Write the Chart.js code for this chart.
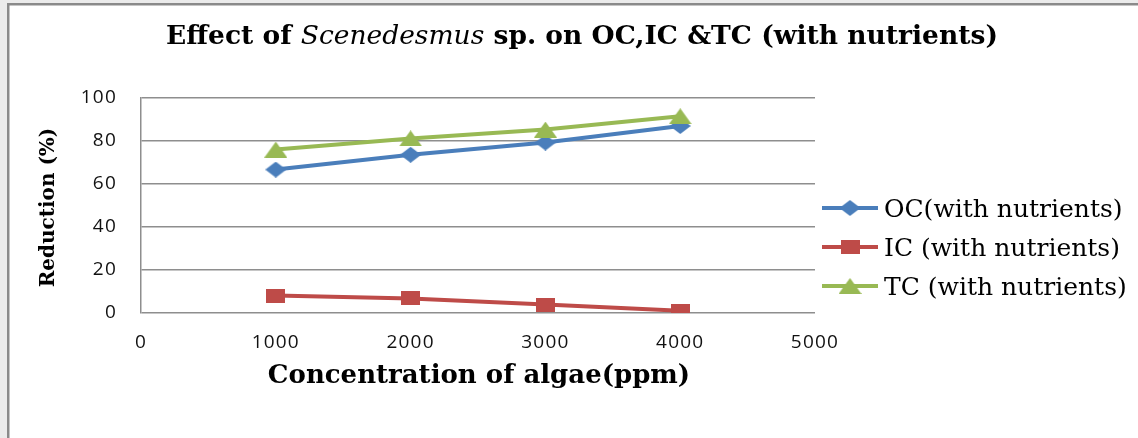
<!DOCTYPE html>
<html>
<head>
<meta charset="utf-8">
<title>Effect of Scenedesmus sp. on OC, IC and TC</title>
<script src="https://cdn.jsdelivr.net/npm/chart.js@4/dist/chart.umd.min.js"></script>
<style>
  html, body { margin: 0; padding: 0; background: #ffffff; overflow: hidden; }
  #wrap { position: relative; width: 1138px; height: 438px; }
</style>
</head>
<body>
<div id="wrap"><canvas id="chart" width="1138" height="438"></canvas></div>
<script>
// Algae concentration (ppm) and reduction (%) per carbon fraction
const concentrations = [1000, 2000, 3000, 4000];
const ocReduction = [66.7, 73.6, 79.3, 87.0];
const icReduction = [8.1, 6.8, 3.9, 1.0];
const tcReduction = [76.0, 81.2, 85.3, 91.5];

const xTicks = [0, 1000, 2000, 3000, 4000, 5000];
const yTicks = [0, 20, 40, 60, 80, 100];

const seriesNames = ['OC(with nutrients)', 'IC (with nutrients)', 'TC (with nutrients)'];
const titleParts = [
  ['Effect of ', 'bold'],
  ['Scenedesmus', 'italic'],
  [' sp. on OC,IC &TC (with nutrients)', 'bold']
];
const xTitle = 'Concentration of algae(ppm)';
const yTitle = 'Reduction (%)';

const SERIF = '"DejaVu Serif", "Liberation Serif", serif';
const SANS = '"Open Sans", "Liberation Sans", sans-serif';
const colors = { oc: '#4a7ebb', ic: '#be4b48', tc: '#98b954' };

// Marker sprites used as point styles
function marker(shape, color, w, h) {
  const c = document.createElement('canvas');
  c.width = w; c.height = h;
  const g = c.getContext('2d');
  g.fillStyle = color;
  g.beginPath();
  if (shape === 'diamond') {
    g.moveTo(w / 2, 0); g.lineTo(w, h / 2); g.lineTo(w / 2, h); g.lineTo(0, h / 2);
  } else if (shape === 'square') {
    g.rect(0, 0, w, h);
  } else {
    g.moveTo(w / 2, 0); g.lineTo(w, h); g.lineTo(0, h);
  }
  g.closePath();
  g.fill();
  return c;
}
const markers = {
  oc: marker('diamond', colors.oc, 21, 16),
  ic: marker('square', colors.ic, 19, 14),
  tc: marker('triangle', colors.tc, 23, 16)
};

const pts = vals => concentrations.map((x, i) => ({ x: x, y: vals[i] }));

// Frame around the drawing: grey margin with a darker inner edge;
// also widens the spacing of the axis numbers
const framePlugin = {
  id: 'frame',
  beforeDraw(chart) {
    const ctx = chart.ctx, W = chart.width, H = chart.height;
    ctx.save();
    ctx.fillStyle = '#ebebeb';
    ctx.fillRect(0, 0, W, H);
    ctx.fillStyle = '#8a8a8a';
    ctx.fillRect(7, 3, W + 10, H + 10);
    ctx.fillStyle = '#ffffff';
    ctx.fillRect(9.5, 5.5, W + 10, H + 10);
    ctx.restore();
    ctx.letterSpacing = '1.2px';
  }
};

// Chart title (italic genus name), axis titles and legend
const textPlugin = {
  id: 'texts',
  afterDraw(chart) {
    const ctx = chart.ctx;
    ctx.save();
    ctx.letterSpacing = '0px';
    ctx.fillStyle = '#000000';
    ctx.textAlign = 'left';
    ctx.textBaseline = 'alphabetic';

    // title
    const fonts = { bold: 'bold 26.5px ' + SERIF, italic: 'italic 26.5px ' + SERIF };
    let total = 0;
    titleParts.forEach(([t, s]) => { ctx.font = fonts[s]; total += ctx.measureText(t).width; });
    let x = 582 - total / 2;
    titleParts.forEach(([t, s]) => {
      ctx.font = fonts[s];
      ctx.fillText(t, x, 44);
      x += ctx.measureText(t).width;
    });

    // axis titles
    const area = chart.chartArea;
    ctx.textAlign = 'center';
    ctx.textBaseline = 'middle';
    ctx.font = 'bold 26px ' + SERIF;
    ctx.fillText(xTitle, (area.left + area.right) / 2 + 1, 376);
    ctx.save();
    ctx.translate(49, (area.top + area.bottom) / 2 + 2);
    ctx.rotate(-Math.PI / 2);
    ctx.font = 'bold 20px ' + SERIF;
    ctx.fillText(yTitle, 0, 0);
    ctx.restore();

    // legend
    const rows = [208, 247, 286];
    ctx.textAlign = 'left';
    ctx.textBaseline = 'alphabetic';
    chart.data.datasets.forEach((ds, i) => {
      const y = rows[i];
      ctx.strokeStyle = ds.borderColor;
      ctx.lineWidth = 4;
      ctx.beginPath();
      ctx.moveTo(822, y);
      ctx.lineTo(878, y);
      ctx.stroke();
      const m = ds.pointStyle;
      ctx.drawImage(m, 850 - m.width / 2, y - m.height / 2);
      ctx.fillStyle = '#000000';
      ctx.font = '25px ' + SERIF;
      ctx.fillText(ds.label, 884, y + 9);
    });
    ctx.restore();
  }
};

const series = [
  { key: 'oc', vals: ocReduction, order: 3 },
  { key: 'ic', vals: icReduction, order: 2 },
  { key: 'tc', vals: tcReduction, order: 1 }
];

const tickFont = { family: SANS, size: 19 };

new Chart(document.getElementById('chart'), {
  type: 'line',
  data: {
    datasets: series.map((s, i) => ({
      label: seriesNames[i],
      data: pts(s.vals),
      borderColor: colors[s.key],
      backgroundColor: colors[s.key],
      borderWidth: 4,
      pointStyle: markers[s.key],
      pointRadius: 10,
      tension: 0,
      fill: false,
      order: s.order
    }))
  },
  options: {
    responsive: false,
    animation: false,
    events: [],
    layout: { padding: { left: 0, top: 98, right: 323, bottom: 0 } },
    plugins: {
      legend: { display: false },
      title: { display: false },
      tooltip: { enabled: false }
    },
    scales: {
      x: {
        type: 'linear',
        min: xTicks[0],
        max: xTicks[xTicks.length - 1],
        afterBuildTicks: s => { s.ticks = xTicks.map(v => ({ value: v })); },
        afterFit: s => { s.height = 125; },
        grid: { display: false, drawTicks: false },
        border: { display: false },
        ticks: {
          padding: 18,
          color: '#111111',
          font: tickFont,
          maxRotation: 0,
          autoSkip: false,
          callback: v => String(v)
        }
      },
      y: {
        min: yTicks[0],
        max: yTicks[yTicks.length - 1],
        afterBuildTicks: s => { s.ticks = yTicks.map(v => ({ value: v })); },
        afterFit: s => { s.width = 141; },
        grid: { color: '#8e8e8e', lineWidth: 1.5, drawTicks: false },
        border: { display: true, color: '#8e8e8e', width: 1.5 },
        ticks: {
          padding: 24,
          color: '#111111',
          font: tickFont,
          autoSkip: false,
          callback: v => String(v)
        }
      }
    }
  },
  plugins: [framePlugin, textPlugin]
});
</script>
</body>
</html>
